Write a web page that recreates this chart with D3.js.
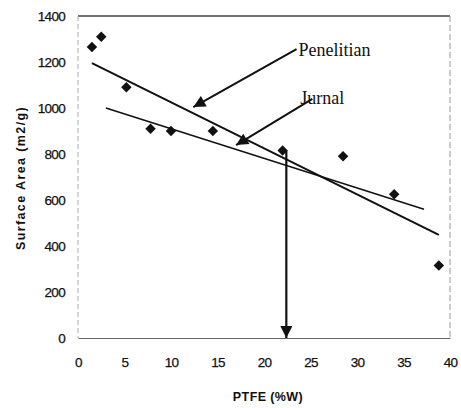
<!DOCTYPE html>
<html>
<head>
<meta charset="utf-8">
<script src="https://cdn.jsdelivr.net/npm/d3@7"></script>
<style>
  body { margin: 0; background: #fff; }
  .tick text { font-family: "Liberation Sans", Arial, sans-serif; font-size: 13.5px; fill: #111; letter-spacing: -0.7px; stroke: #111; stroke-width: 0.25px; }
  .note { font-family: "Liberation Serif", "Times New Roman", serif; font-size: 18px; fill: #111; }
  .title { font-family: "Liberation Sans", Arial, sans-serif; font-size: 12.5px; font-weight: bold; fill: #111; }
</style>
</head>
<body>
<svg width="461" height="408"></svg>
<script>
// measured points
const ptfe = [1.5, 2.5, 5.2, 7.8, 10, 14.5, 22, 28.5, 34, 38.8];
const area = [1265, 1310, 1090, 910, 900, 900, 815, 790, 625, 315];

// trend lines as drawn (start / end)
const penelitianLine = [[1.5, 1195], [38.8, 448]];
const jurnalLine = [[3, 1000], [37.2, 560]];

// callouts: label position, arrow tail, arrow head
const callouts = [
  {label: "Penelitian", at: [23.7, 1225], tail: [23.5, 1256], head: [12.4, 1004]},
  {label: "Jurnal", at: [23.9, 1018], tail: [25.2, 1040], head: [17, 839]}
];
const readX = 22.4, readY = 815;

const xTicks = [0, 5, 10, 15, 20, 25, 30, 35, 40];
const yTicks = [0, 200, 400, 600, 800, 1000, 1200, 1400];

const svg = d3.select("svg"),
    margin = {top: 16, right: 11, bottom: 70, left: 78},
    width = 461 - margin.left - margin.right,
    height = 408 - margin.top - margin.bottom,
    g = svg.append("g").attr("transform", "translate(" + margin.left + "," + margin.top + ")");

const xScale = d3.scaleLinear().domain([0, 40]).range([0, width]),
    yScale = d3.scaleLinear().domain([0, 1400]).range([height, 0]);

svg.append("defs").append("marker")
    .attr("id", "headBig")
    .attr("viewBox", "0 0 10 10")
    .attr("refX", 10).attr("refY", 5)
    .attr("markerWidth", 14).attr("markerHeight", 12)
    .attr("markerUnits", "userSpaceOnUse")
    .attr("orient", "auto")
  .append("path")
    .attr("d", "M0,0L10,5L0,10Z")
    .attr("fill", "#111");

// Frame
g.append("line").attr("x1", 0).attr("x2", width).attr("y1", 0).attr("y2", 0)
    .attr("stroke", "#444").attr("stroke-width", 1.3);
g.append("line").attr("x1", width).attr("x2", width).attr("y1", 0).attr("y2", height)
    .attr("stroke", "#999").attr("stroke-dasharray", "6,3");
g.append("line").attr("x1", 0).attr("x2", 0).attr("y1", 0).attr("y2", height)
    .attr("stroke", "#aaa").attr("stroke-dasharray", "5,3");

// Axes
const xAxis = g.append("g")
    .attr("transform", "translate(0," + height + ")")
    .call(d3.axisBottom(xScale).tickValues(xTicks).tickSize(0).tickPadding(19));
xAxis.select(".domain").attr("stroke", "#666").attr("stroke-width", 1.2);

const yAxis = g.append("g")
    .call(d3.axisLeft(yScale).tickValues(yTicks).tickFormat(d3.format("d")).tickSize(0).tickPadding(13));
yAxis.select(".domain").remove();

// Trend lines
const line = d3.line()
    .x(function(d) { return xScale(d[0]); })
    .y(function(d) { return yScale(d[1]); });

[penelitianLine, jurnalLine].forEach(function(l, i) {
  g.append("path")
      .attr("d", line(l))
      .attr("fill", "none")
      .attr("stroke", "#111")
      .attr("stroke-width", i === 0 ? 2 : 1.5);
});

// Diamonds
g.selectAll(".pt")
    .data(d3.zip(ptfe, area))
  .enter().append("path")
    .attr("class", "pt")
    .attr("transform", function(d) { return "translate(" + xScale(d[0]) + "," + yScale(d[1]) + ")"; })
    .attr("d", d3.symbol(d3.symbolDiamond2, 70))
    .attr("fill", "#111");

// Callout arrows and labels
callouts.forEach(function(c) {
  g.append("line")
      .attr("x1", xScale(c.tail[0])).attr("y1", yScale(c.tail[1]))
      .attr("x2", xScale(c.head[0])).attr("y2", yScale(c.head[1]))
      .attr("stroke", "#111").attr("stroke-width", 2)
      .attr("marker-end", "url(#headBig)");
  g.append("text")
      .attr("class", "note")
      .attr("x", xScale(c.at[0]))
      .attr("y", yScale(c.at[1]))
      .text(c.label);
});

// Read-off arrow down to the x axis
g.append("line")
    .attr("x1", xScale(readX)).attr("y1", yScale(readY))
    .attr("x2", xScale(readX)).attr("y2", yScale(0))
    .attr("stroke", "#111").attr("stroke-width", 2.2)
    .attr("marker-end", "url(#headBig)");

// Axis titles
svg.append("text")
    .attr("class", "title")
    .attr("transform", "translate(25,178) rotate(-90)")
    .attr("text-anchor", "middle")
    .attr("letter-spacing", "1.4px")
    .text("Surface Area (m2/g)");

svg.append("text")
    .attr("class", "title")
    .attr("x", 268)
    .attr("y", 401)
    .attr("text-anchor", "middle")
    .attr("letter-spacing", "0.4px")
    .text("PTFE (%W)");
</script>
</body>
</html>
